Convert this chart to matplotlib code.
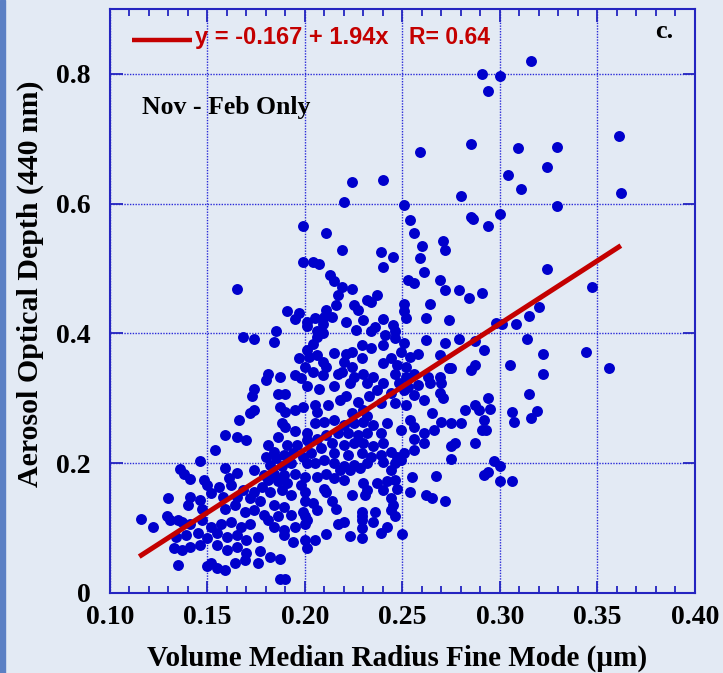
import matplotlib.pyplot as plt
import numpy as np
from matplotlib.patches import Rectangle
from matplotlib.ticker import MultipleLocator

# regression shown on the chart
fit_intercept = -0.167
fit_slope = 1.94
fit_r = 0.64
fit_x_range = [0.115, 0.362]

x_ticks = [0.10, 0.15, 0.20, 0.25, 0.30, 0.35, 0.40]
x_tick_labels = ["0.10", "0.15", "0.20", "0.25", "0.30", "0.35", "0.40"]
y_ticks = [0, 0.2, 0.4, 0.6, 0.8]
y_tick_labels = ["0", "0.2", "0.4", "0.6", "0.8"]

# (volume median radius fine mode [um], AOD 440nm), by area
pts_low_left = [
    (.166, .267), (.159, .244), (.165, .240), (.170, .235), (.154, .220), (.146, .204), (.136, .191),
    (.138, .184), (.141, .175), (.148, .174), (.159, .193), (.165, .185), (.161, .177), (.130, .146),
    (.116, .114), (.122, .101), (.129, .119), (.135, .043), (.187, .021), (.190, .021),
    (.190, .256), (.195, .249), (.201, .246), (.186, .241), (.191, .228), (.196, .228), (.181, .228),
    (.184, .218), (.180, .210), (.185, .208), (.189, .213), (.194, .215), (.199, .210), (.201, .200),
    (.182, .197), (.188, .195), (.193, .200), (.174, .190), (.179, .182), (.184, .184), (.189, .182),
    (.195, .184), (.200, .179), (.186, .172), (.191, .169), (.198, .166), (.181, .174),
    (.150, .166), (.156, .164), (.162, .166), (.168, .159), (.174, .156), (.178, .164), (.182, .156),
    (.188, .159), (.193, .151), (.200, .156),
    (.141, .148), (.146, .143), (.152, .154), (.158, .148), (.165, .148), (.172, .146), (.177, .141),
    (.184, .136), (.189, .133), (.200, .141),
    (.140, .136), (.147, .130), (.159, .130), (.164, .136), (.169, .125), (.174, .128), (.179, .120),
    (.186, .118), (.193, .120), (.200, .118),
    (.135, .112), (.131, .112), (.137, .110), (.141, .107), (.147, .112), (.152, .102), (.157, .107),
    (.162, .110), (.167, .102), (.172, .107), (.181, .112), (.184, .102), (.189, .097), (.195, .102),
    (.201, .112),
    (.134, .087), (.139, .089), (.145, .092), (.150, .084), (.155, .092), (.160, .087), (.165, .089),
    (.170, .082), (.176, .087), (.189, .089), (.194, .079), (.200, .082),
    (.133, .069), (.137, .066), (.141, .071), (.146, .074), (.155, .074), (.160, .066), (.165, .071),
    (.170, .061), (.177, .064), (.182, .056), (.187, .053), (.201, .069),
    (.150, .041), (.155, .038), (.159, .035), (.164, .046), (.169, .051), (.176, .046), (.152, .046),
]

pts_low_mid = [
    (.205, .262), (.210, .264), (.215, .267), (.220, .259), (.225, .262), (.230, .264), (.235, .259),
    (.242, .262), (.239, .246), (.232, .246), (.227, .244), (.222, .246), (.217, .246), (.211, .244),
    (.206, .238), (.201, .236),
    (.214, .231), (.220, .228), (.225, .231), (.230, .231), (.235, .226), (.240, .231), (.208, .223),
    (.203, .215), (.215, .215), (.222, .213), (.229, .215), (.234, .210), (.239, .213), (.244, .218),
    (.247, .210), (.251, .215),
    (.249, .205), (.246, .200), (.240, .202), (.232, .200), (.225, .197), (.220, .195), (.215, .200),
    (.210, .205), (.205, .200),
    (.223, .190), (.228, .192), (.244, .189), (.218, .190), (.211, .184), (.206, .179), (.215, .177),
    (.220, .174),
    (.249, .251), (.256, .256), (.261, .246), (.256, .238), (.261, .231), (.266, .251), (.256, .220),
    (.270, .264), (.275, .262), (.280, .262), (.292, .267), (.291, .251), (.293, .251), (.277, .231),
    (.275, .226), (.287, .231), (.275, .206), (.297, .204), (.300, .195),
    (.230, .169), (.232, .159), (.231, .151), (.237, .169), (.242, .172), (.246, .174), (.247, .161),
    (.240, .159), (.255, .178), (.267, .180), (.254, .156), (.262, .151), (.265, .147), (.272, .141),
    (.292, .182), (.294, .187), (.300, .173), (.224, .151), (.210, .161), (.211, .156), (.306, .172),
    (.204, .138), (.206, .128), (.214, .141), (.216, .130), (.199, .125), (.200, .107), (.217, .107),
    (.220, .110), (.229, .125), (.229, .118), (.229, .112), (.236, .125), (.244, .146), (.245, .136),
    (.244, .128), (.246, .118), (.235, .110), (.229, .100), (.229, .084), (.223, .088), (.211, .091),
    (.205, .081), (.239, .092), (.242, .102), (.250, .091),
]

pts_mid_left = [
    (.219, .529), (.199, .510), (.204, .510), (.207, .507), (.165, .469), (.213, .490), (.215, .481),
    (.219, .472), (.224, .468), (.217, .459), (.232, .452), (.216, .444), (.225, .444), (.227, .436),
    (.191, .435), (.197, .432), (.195, .422), (.211, .436), (.210, .426), (.214, .426), (.205, .423),
    (.201, .417), (.201, .411), (.209, .415), (.221, .417), (.230, .421), (.226, .406), (.185, .404),
    (.168, .394), (.174, .391), (.184, .386), (.206, .403), (.206, .395), (.209, .401), (.204, .384),
    (.201, .374), (.197, .362), (.202, .364), (.206, .367), (.209, .356), (.211, .349), (.215, .370),
    (.221, .369), (.224, .372), (.229, .382), (.229, .362), (.220, .356), (.224, .349), (.200, .349),
    (.195, .336), (.198, .331), (.204, .341), (.209, .336), (.217, .338), (.219, .341), (.225, .333),
    (.230, .338), (.181, .338), (.180, .328), (.187, .333), (.201, .319), (.207, .315), (.215, .319),
    (.223, .323), (.232, .323), (.174, .314), (.173, .304), (.186, .307), (.190, .307), (.221, .303),
    (.227, .295), (.218, .297), (.187, .287), (.190, .279), (.195, .282), (.199, .287), (.205, .290),
    (.206, .279), (.212, .290), (.174, .282), (.172, .278), (.188, .262), (.224, .277), (.230, .282),
    (.232, .272),
]

pts_mid_right = [
    (.256, .554), (.260, .535), (.271, .542), (.272, .529), (.239, .525), (.245, .517), (.240, .502),
    (.259, .516), (.261, .494), (.253, .482), (.256, .477), (.269, .483), (.272, .467), (.279, .467),
    (.284, .454), (.291, .462), (.324, .499), (.237, .459), (.234, .449), (.251, .446), (.251, .434),
    (.252, .423), (.264, .446), (.262, .423), (.274, .420), (.240, .422), (.236, .410), (.234, .403),
    (.245, .413), (.246, .403), (.241, .398), (.246, .393), (.240, .382), (.234, .377), (.251, .385),
    (.262, .390), (.272, .385), (.279, .392), (.287, .389), (.298, .416), (.301, .415), (.308, .414),
    (.315, .427), (.320, .441), (.314, .391), (.292, .374), (.322, .368), (.305, .351), (.322, .338),
    (.244, .362), (.249, .372), (.254, .364), (.258, .368), (.269, .367), (.240, .354), (.247, .351),
    (.252, .349), (.235, .333), (.246, .338), (.252, .333), (.256, .338), (.263, .333), (.274, .346),
    (.275, .346), (.269, .333), (.285, .344), (.287, .351), (.240, .323), (.248, .323), (.253, .318),
    (.258, .320), (.264, .323), (.270, .323), (.237, .313), (.244, .308), (.251, .313), (.256, .305),
    (.261, .297), (.269, .308), (.271, .300), (.233, .303), (.239, .292), (.246, .292), (.252, .290),
    (.294, .301), (.315, .307), (.287, .290), (.282, .282), (.289, .282), (.295, .283), (.306, .279),
    (.319, .281), (.316, .269), (.307, .264), (.254, .267), (.265, .277),
]

pts_upper = [
    (.224, .634), (.240, .637), (.220, .602), (.251, .598), (.254, .574), (.199, .565), (.211, .555),
    (.259, .680), (.316, .820), (.291, .800), (.300, .796), (.294, .773), (.285, .692), (.309, .685),
    (.329, .687), (.361, .704), (.324, .657), (.304, .644), (.311, .622), (.280, .612), (.362, .617),
    (.329, .597), (.300, .584), (.285, .579), (.286, .576), (.294, .566),
    (.347, .472), (.344, .371), (.356, .346),
]

bg = "#e3eaf4"
axis_blue = "#2424c0"
dot_blue = "#0000cc"
fit_red = "#c40000"

plt.rcParams["font.family"] = ["Liberation Serif", "DejaVu Serif"]
plt.rcParams["font.weight"] = "bold"

pts = np.array(pts_low_left + pts_low_mid + pts_mid_left + pts_mid_right + pts_upper)

fig = plt.figure(figsize=(7.23, 6.73), dpi=100, facecolor=bg)
# darker strip on the left edge of the slide
fig.patches.append(Rectangle((0, 0), 5 / 723, 1, transform=fig.transFigure, color="#5b80c4", zorder=0))

ax = fig.add_axes([0.1521, 0.1189, 0.8091, 0.8678])
ax.set_facecolor(bg)

ax.scatter(pts[:, 0], pts[:, 1], s=62, c=dot_blue, linewidths=0, zorder=3)

fx = np.array(fit_x_range)
ax.plot(fx, fit_intercept + fit_slope * fx, color=fit_red, lw=3.6, zorder=4, solid_capstyle="butt")

ax.set_xlim(0.10, 0.40)
ax.set_ylim(0, 0.9)
ax.set_xticks(x_ticks)
ax.set_xticklabels(x_tick_labels, fontsize=20, fontweight="bold")
ax.set_yticks(y_ticks)
ax.set_yticklabels(y_tick_labels, fontsize=20, fontweight="bold")
ax.xaxis.set_minor_locator(MultipleLocator(0.01))

ax.tick_params(which="both", direction="in", top=True, right=True, color=axis_blue, width=1.3)
ax.tick_params(which="major", length=9)
ax.tick_params(which="minor", length=5)
ax.tick_params(axis="x", pad=9)
ax.tick_params(axis="y", pad=14)
for s in ax.spines.values():
    s.set_color(axis_blue)
    s.set_linewidth(1.5)

ax.set_axisbelow(True)
ax.grid(True, which="major", color="#2a2ad8", linestyle=(0, (1, 1)), lw=1.0)

ax.set_xlabel("Volume Median Radius Fine Mode (\u00b5m)", fontsize=21, fontweight="bold")
ax.xaxis.set_label_coords(0.49, -0.088)
ax.set_ylabel("Aerosol Optical Depth (440 nm)", fontsize=21.5, fontweight="bold")
ax.yaxis.set_label_coords(-0.112, 0.53)

# legend-like label at the top
ax.plot([0.0376, 0.140], [0.947, 0.947], transform=ax.transAxes, color=fit_red, lw=3.2,
        solid_capstyle="butt", zorder=5)
ax.text(0.145, 0.951, "y = %.3f + %.2fx" % (fit_intercept, fit_slope), transform=ax.transAxes,
        fontsize=17, color=fit_red, fontweight="bold", family="Liberation Sans", va="center")
ax.text(0.511, 0.951, "R= %.2f" % fit_r, transform=ax.transAxes,
        fontsize=16.5, color=fit_red, fontweight="bold", family="Liberation Sans", va="center")

ax.text(0.055, 0.832, "Nov - Feb Only", transform=ax.transAxes, fontsize=18.5, fontweight="bold",
        va="center")
ax.text(0.932, 0.962, "c.", transform=ax.transAxes, fontsize=19, fontweight="bold", va="center")

fig.savefig("out.png", dpi=100, facecolor=bg)
